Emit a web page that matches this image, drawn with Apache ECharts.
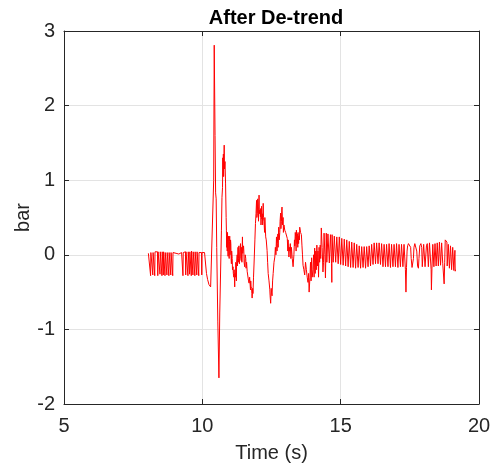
<!DOCTYPE html>
<html>
<head>
<meta charset="utf-8">
<script src="https://cdn.jsdelivr.net/npm/echarts@6/dist/echarts.min.js"></script>
<style>
	html, body { margin: 0; padding: 0; background: #fff; }
	#chart { width: 498px; height: 470px; }
</style>
</head>
<body>
<div id="chart"></div>
<script>
	// 平稳段 (time s, bar)
	var quietPart = [[8.05,0.02],[8.12,0.03],[8.13,-0.28],[8.14,0.03],[8.20,0.03],[8.21,-0.27],[8.22,0.03],[8.27,0.03],[8.28,-0.28],[8.29,0.04],
		[8.38,0.04],[8.39,-0.28],[8.40,0.04],[8.46,0.04],[8.47,-0.26],[8.48,0.04],[8.53,0.04],[8.54,-0.28],[8.55,0.04],[8.58,0.04],[8.59,-0.27],[8.60,0.04],
		[8.64,0.04],[8.65,-0.28],[8.66,0.03],[8.71,0.03],[8.72,-0.27],[8.73,0.03],[8.78,0.03],[8.79,-0.28],[8.80,0.03],[8.85,0.03],[8.86,-0.27],[8.87,0.03],
		[8.92,0.03],[8.93,-0.28],[8.94,0.03],[9.05,0.02],[9.15,0.01],[9.25,0.03],[9.29,0.03],[9.30,-0.28],[9.31,0.03],[9.39,0.04],[9.40,-0.27],[9.41,0.04],
		[9.47,0.04],[9.48,-0.28],[9.49,0.04],[9.53,0.04],[9.54,-0.26],[9.55,0.04],[9.59,0.05],[9.60,-0.28],[9.61,0.05],[9.65,0.04],[9.66,-0.27],[9.67,0.04],
		[9.72,0.04],[9.73,-0.28],[9.74,0.04],[9.79,0.04],[9.80,-0.27],[9.81,0.04],[9.86,0.03],[9.87,-0.28],[9.88,0.03],[9.97,0.03],[9.98,-0.27],[9.99,0.03],
		[10.08,0.03],[10.14,0.02],[10.15,-0.25],[10.19,-0.33],[10.24,-0.40],[10.30,-0.43],[10.36,-0.44]];

	// 冲击段
	var burstPart = [[10.38,-0.44],[10.41,1.0],[10.43,2.81],[10.46,1.6],[10.48,0.83],[10.50,0.75],[10.52,0.1],[10.56,-0.9],[10.60,-1.65],[10.63,-0.78],
		[10.69,0.33],[10.71,0.77],[10.73,0.9],[10.74,1.3],[10.75,1.05],[10.76,1.35],[10.77,1.05],[10.79,1.47],[10.80,1.15],[10.82,1.25],[10.84,0.95],
		[10.86,0.5],[10.87,0.33],[10.88,0.1],[10.89,0.25],[10.90,0.05],[10.91,0.3],[10.92,0.12],[10.93,-0.02],[10.94,0.2],[10.95,0.25],[10.96,0.02],
		[10.97,-0.05],[10.98,0.18],[10.99,0.25],[11.00,0.0],[11.01,0.05],[11.02,0.2],[11.03,0.15],[11.04,-0.05],[11.05,-0.12],[11.06,0.05],[11.08,-0.05],
		[11.09,-0.2],[11.11,-0.16],[11.12,-0.25],[11.14,-0.3],[11.15,-0.2],[11.17,-0.43],[11.18,-0.25],[11.20,-0.3],[11.21,-0.1],[11.23,-0.35],[11.24,-0.1],
		[11.26,0.0],[11.27,-0.15],[11.29,0.1],[11.30,-0.1],[11.31,-0.05],[11.32,0.12],[11.33,0.05],[11.34,-0.12],[11.36,-0.1],[11.37,0.1],[11.38,0.15],
		[11.39,-0.05],[11.41,-0.08],[11.42,0.1],[11.43,-0.1],[11.45,0.24],[11.46,0.02],[11.48,0.0],[11.49,0.12],[11.50,0.05],[11.51,-0.1],[11.53,-0.16],
		[11.55,0.0],[11.57,-0.05],[11.58,-0.18],[11.60,-0.1],[11.62,-0.22],[11.65,-0.2],[11.67,-0.35],[11.69,-0.38],[11.71,-0.3],[11.74,-0.47],[11.75,-0.35],
		[11.76,-0.42],[11.78,-0.45],[11.79,-0.52],[11.80,-0.58],[11.82,-0.45],[11.83,-0.52],[11.85,-0.3],[11.87,-0.11],[11.90,0.2],[11.92,0.42],[11.94,0.55],
		[11.96,0.73],[11.97,0.5],[11.99,0.55],[12.00,0.75],[12.02,0.65],[12.03,0.45],[12.05,0.8],[12.06,0.55],[12.08,0.6],[12.10,0.51],[12.11,0.62],
		[12.12,0.4],[12.14,0.65],[12.15,0.48],[12.17,0.55],[12.18,0.4],[12.20,0.69],[12.21,0.5],[12.23,0.45],[12.25,0.3],[12.26,0.5],[12.29,0.24],[12.31,0.2],
		[12.34,0.06],[12.36,-0.1],[12.38,-0.25],[12.41,-0.35],[12.44,-0.47],[12.45,-0.55],[12.47,-0.65],[12.49,-0.45],[12.50,-0.5],[12.52,-0.55],[12.54,-0.35],
		[12.56,-0.25],[12.59,-0.1],[12.62,-0.03],[12.64,0.1],[12.66,0.0],[12.68,0.24],[12.70,0.05],[12.71,0.15],[12.73,0.28],[12.74,0.1],[12.76,0.37],
		[12.78,0.2],[12.80,0.3],[12.81,0.45],[12.83,0.56],[12.84,0.35],[12.86,0.45],[12.87,0.6],[12.88,0.64],[12.90,0.4],[12.92,0.5],[12.93,0.3],[12.95,0.4],
		[12.98,0.33],[13.01,0.3],[13.04,0.28],[13.07,0.22],[13.09,0.05],[13.10,0.2],[13.13,-0.03],[13.15,0.1],[13.16,0.05],[13.18,0.15],[13.20,-0.05],
		[13.22,0.1],[13.25,-0.05],[13.28,-0.16],[13.31,0.0],[13.33,0.2],[13.34,0.12],[13.36,0.3],[13.37,0.25],[13.39,0.05],[13.40,0.33],[13.42,0.15],
		[13.43,0.28],[13.45,0.1],[13.46,0.3],[13.48,0.15],[13.49,0.25],[13.51,0.2],[13.52,0.37],[13.55,0.3],[13.58,0.27],[13.60,0.13],[13.62,0.0],
		[13.64,-0.14],[13.67,-0.2],[13.70,-0.27],[13.73,-0.1],[13.76,-0.2],[13.79,-0.3],[13.82,-0.37],[13.84,-0.25],[13.86,-0.5],[13.89,-0.3],[13.91,-0.1],
		[13.93,-0.35],[13.95,-0.04],[13.97,-0.3],[14.00,-0.2],[14.02,0.0],[14.04,-0.3],[14.06,0.09],[14.08,-0.25],[14.10,0.05],[14.12,-0.2],[14.14,0.13],
		[14.16,-0.15],[14.18,0.05],[14.20,-0.3],[14.22,0.1],[14.24,-0.1],[14.26,0.13],[14.28,-0.05],[14.30,0.36],[14.33,0.1],[14.36,-0.23],[14.38,-0.1],
		[14.40,0.29],[14.43,0.0],[14.45,-0.31]];

	// 衰减段
	var tailPart = [[14.48,0.29],[14.50,-0.1],[14.53,-0.1],[14.54,0.28],[14.58,0.28],[14.59,-0.11],[14.62,-0.11],[14.63,0.27],[14.66,0.27],[14.67,-0.12],
		[14.68,-0.37],[14.69,0.27],[14.72,0.26],[14.73,-0.1],[14.76,-0.11],[14.77,0.25],[14.81,0.25],[14.82,-0.1],[14.85,-0.1],[14.86,0.24],[14.90,0.24],
		[14.91,-0.12],[14.94,-0.12],[14.95,0.24],[14.99,0.23],[15.00,-0.13],[15.03,-0.14],[15.04,0.22],[15.08,0.22],[15.09,-0.14],[15.12,-0.14],[15.13,0.21],
		[15.17,0.2],[15.18,-0.15],[15.21,-0.15],[15.22,0.2],[15.26,0.19],[15.27,-0.16],[15.30,-0.16],[15.31,0.18],[15.35,0.18],[15.36,-0.17],[15.39,-0.17],
		[15.40,0.17],[15.44,0.16],[15.45,-0.17],[15.48,-0.17],[15.49,0.16],[15.53,0.15],[15.54,-0.18],[15.57,-0.18],[15.58,0.14],[15.62,0.13],[15.63,-0.17],
		[15.66,-0.18],[15.67,0.12],[15.71,0.12],[15.72,-0.18],[15.75,-0.18],[15.76,0.11],[15.80,0.11],[15.81,-0.17],[15.84,-0.17],[15.85,0.11],[15.89,0.11],
		[15.90,-0.18],[15.93,-0.17],[15.94,0.11],[15.98,0.11],[15.99,-0.16],[16.02,-0.16],[16.03,0.12],[16.07,0.13],[16.08,-0.15],[16.11,-0.15],[16.12,0.14],
		[16.16,0.15],[16.17,-0.13],[16.20,-0.13],[16.21,0.16],[16.25,0.16],[16.26,-0.12],[16.29,-0.12],[16.30,0.16],[16.34,0.16],[16.35,-0.12],[16.38,-0.12],
		[16.39,0.16],[16.43,0.15],[16.44,-0.13],[16.47,-0.13],[16.48,0.15],[16.52,0.14],[16.53,-0.16],[16.56,-0.16],[16.57,0.14],[16.61,0.14],[16.62,-0.16],
		[16.65,-0.17],[16.66,0.14],[16.70,0.14],[16.71,-0.16],[16.74,-0.16],[16.75,0.15],[16.79,0.14],[16.80,-0.17],[16.83,-0.16],[16.84,0.14],[16.88,0.13],
		[16.89,-0.16],[16.92,-0.17],[16.93,0.14],[16.97,0.14],[16.98,-0.16],[17.01,-0.16],[17.02,0.15],[17.06,0.14],[17.07,-0.17],[17.10,-0.16],[17.11,0.14],
		[17.15,0.14],[17.16,-0.16],[17.19,-0.16],[17.20,0.14],[17.24,0.14],[17.25,-0.16],[17.28,-0.16],[17.29,0.14],[17.33,0.14],[17.34,-0.2],[17.36,-0.5],
		[17.38,-0.17],[17.40,0.05],[17.42,0.12],[17.45,0.15],[17.50,0.14],[17.53,0.1],[17.55,-0.05],[17.58,-0.17],[17.61,-0.18],[17.63,-0.05],[17.65,0.1],
		[17.68,0.15],[17.72,0.14],[17.75,0.05],[17.78,-0.15],[17.81,-0.18],[17.83,-0.05],[17.86,0.12],[17.90,0.15],[17.93,0.1],[17.95,-0.16],[17.98,-0.17],
		[18.00,0.14],[18.04,0.14],[18.05,-0.16],[18.08,-0.15],[18.10,0.12],[18.13,0.15],[18.16,0.14],[18.17,-0.16],[18.20,-0.16],[18.21,0.16],[18.25,0.15],
		[18.27,-0.2],[18.28,-0.47],[18.30,-0.18],[18.33,0.14],[18.36,0.14],[18.37,-0.16],[18.40,-0.16],[18.41,0.15],[18.44,0.15],[18.45,-0.15],[18.48,-0.16],
		[18.49,0.16],[18.52,0.17],[18.53,-0.15],[18.56,-0.15],[18.57,0.17],[18.60,0.17],[18.61,-0.14],[18.64,-0.14],[18.65,0.16],[18.68,0.15],[18.69,-0.12],
		[18.72,-0.13],[18.74,-0.39],[18.76,-0.1],[18.78,0.2],[18.81,0.2],[18.84,0.17],[18.85,-0.15],[18.88,-0.16],[18.89,0.14],[18.92,0.13],[18.93,-0.18],
		[18.96,-0.18],[18.97,0.12],[19.00,0.1],[19.01,-0.2],[19.04,-0.2],[19.05,0.1],[19.08,0.08],[19.09,-0.21],[19.12,-0.2],[19.13,0.06],[19.14,-0.22],
		[19.15,-0.2]];

	var signal = quietPart.concat(burstPart, tailPart);

	var axisColor = '#262626';
	var gridColor = '#e3e3e3';
	var fontName = 'Liberation Sans, Arial, sans-serif';

	var myChart = echarts.init(document.getElementById('chart'));

	var option = {
		animation: false,
		title: {
			text: 'After De-trend',
			left: 271,
			textAlign: 'center',
			top: 3,
			textStyle: {
				fontFamily: fontName,
				fontSize: 20,
				fontWeight: 'bold',
				color: '#000'
			}
		},
		grid: {
			left: 64,
			right: 19,
			top: 31,
			bottom: 66,
			containLabel: false,
			outerBoundsMode: 'none'
		},
		xAxis: [{
			type: 'value',
			min: 5,
			max: 20,
			interval: 5,
			name: 'Time (s)',
			nameLocation: 'middle',
			nameGap: 39,
			nameMoveOverlap: false,
			nameTextStyle: { fontFamily: fontName, fontSize: 20, color: axisColor },
			axisLine: { onZero: false, lineStyle: { color: axisColor, width: 1 } },
			axisTick: { inside: true, length: 5, lineStyle: { color: axisColor } },
			axisLabel: { margin: 12, fontFamily: fontName, fontSize: 20, color: axisColor },
			splitLine: { show: true, lineStyle: { color: gridColor, width: 1 } }
		}, {
			type: 'value',
			position: 'top',
			min: 5,
			max: 20,
			interval: 5,
			axisLine: { onZero: false, lineStyle: { color: axisColor, width: 1 } },
			axisTick: { inside: true, length: 5, lineStyle: { color: axisColor } },
			axisLabel: { show: false },
			splitLine: { show: false }
		}],
		yAxis: [{
			type: 'value',
			min: -2,
			max: 3,
			interval: 1,
			name: 'bar',
			nameLocation: 'middle',
			nameGap: 31,
			nameRotate: 90,
			nameMoveOverlap: false,
			nameTextStyle: { fontFamily: fontName, fontSize: 20, color: axisColor },
			axisLine: { show: true, onZero: false, lineStyle: { color: axisColor, width: 1 } },
			axisTick: { show: true, inside: true, length: 5, lineStyle: { color: axisColor } },
			axisLabel: { margin: 9, fontFamily: fontName, fontSize: 20, color: axisColor },
			splitLine: { show: true, lineStyle: { color: gridColor, width: 1 } }
		}, {
			type: 'value',
			position: 'right',
			min: -2,
			max: 3,
			interval: 1,
			axisLine: { show: true, onZero: false, lineStyle: { color: axisColor, width: 1 } },
			axisTick: { show: true, inside: true, length: 5, lineStyle: { color: axisColor } },
			axisLabel: { show: false },
			splitLine: { show: false }
		}],
		series: [{
			type: 'line',
			xAxisIndex: 0,
			yAxisIndex: 0,
			data: signal,
			showSymbol: false,
			symbol: 'none',
			sampling: null,
			lineStyle: { color: '#ff0000', width: 1 }
		}]
	};

	myChart.setOption(option);
</script>
</body>
</html>
